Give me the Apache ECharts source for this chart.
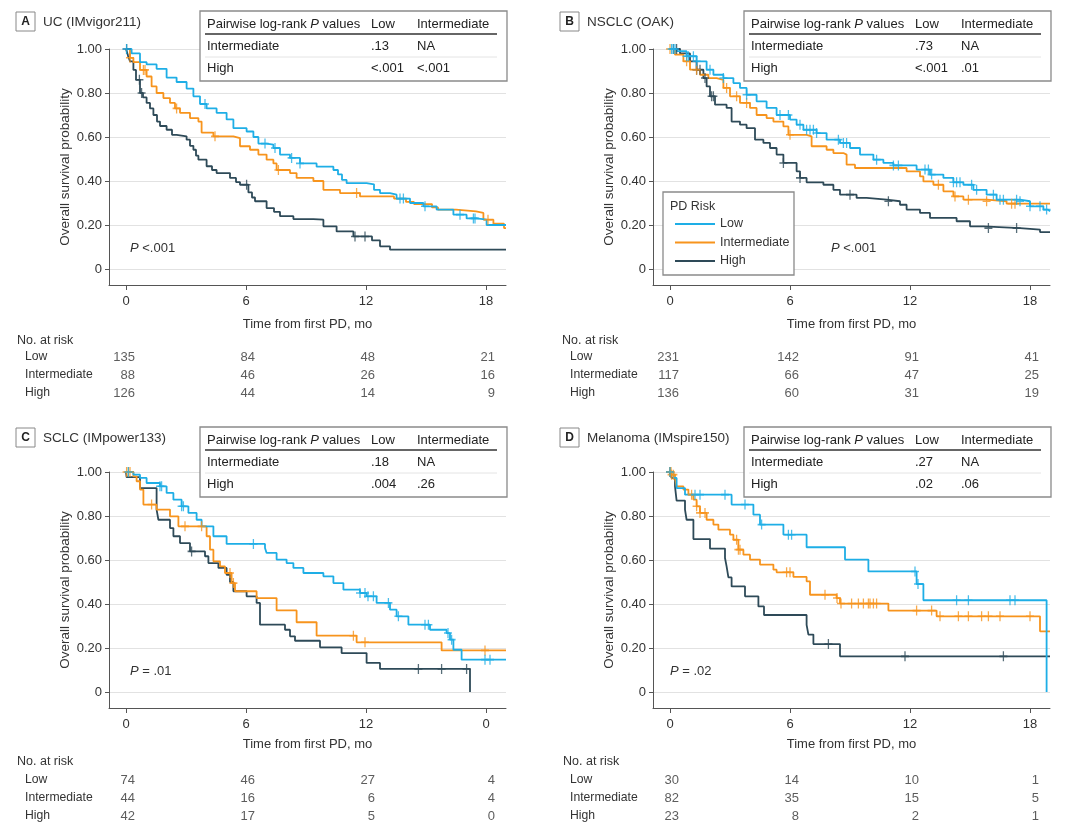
<!DOCTYPE html>
<html>
<head>
<meta charset="utf-8">
<script src="https://cdn.jsdelivr.net/npm/echarts@6/dist/echarts.min.js"></script>
<style>
  html, body { margin: 0; padding: 0; background: #fff; }
  #main { width: 1080px; height: 832px; }
</style>
</head>
<body>
<div id="main"></div>
<script>
// ---- data ----
const riskGroups = ['Low', 'Intermediate', 'High'];
const monthTicks = [0, 6, 12, 18];
const survTicks = [0, 0.2, 0.4, 0.6, 0.8, 1];
const tickLabelsStd = ['0', '6', '12', '18'];
const tickLabelsC = ['0', '6', '12', '0'];   // as printed in panel C

// A: UC (IMvigor211)
const ucLow = [[0,1],[0.28,0.98],[0.7,0.94],[1.03,0.93],[1.53,0.91],[2.03,0.87],[2.53,0.85],[3.03,0.82],[3.37,0.785],[3.7,0.75],[4.03,0.73],[4.53,0.71],[5.03,0.68],[5.37,0.64],[6.03,0.625],[6.37,0.6],[6.62,0.57],[7.03,0.565],[7.37,0.55],[7.7,0.52],[8.2,0.505],[8.7,0.48],[9.53,0.465],[10.37,0.45],[10.6,0.43],[10.8,0.405],[11.03,0.39],[12.03,0.385],[12.4,0.36],[12.7,0.345],[13.2,0.338],[13.53,0.32],[14.2,0.3],[14.87,0.285],[15.53,0.27],[16.37,0.247],[17.03,0.23],[17.53,0.224],[18.03,0.2],[19,0.197]];
const ucLowCens = [0.03,3.95,6.95,7.45,8.28,8.7,13.7,13.87,14.95,16.7,17.37,17.45];
const ucInt = [[0,1],[0.2,0.96],[0.37,0.94],[0.7,0.905],[1.03,0.875],[1.28,0.83],[1.53,0.8],[1.87,0.777],[2.2,0.755],[2.45,0.73],[2.7,0.71],[3.2,0.686],[3.62,0.67],[3.78,0.62],[4.37,0.603],[5.37,0.595],[5.7,0.558],[6.2,0.542],[6.62,0.52],[7.03,0.497],[7.37,0.48],[7.53,0.45],[8.2,0.436],[8.53,0.414],[9.37,0.4],[9.87,0.36],[10.7,0.345],[11.7,0.33],[13.4,0.32],[14.0,0.305],[14.4,0.295],[15.3,0.28],[15.6,0.27],[16.5,0.262],[17.5,0.255],[17.87,0.224],[18.37,0.206],[18.9,0.186],[19,0.186]];
const ucIntCens = [0.2,0.87,0.95,2.53,4.45,7.62,11.53,18.1];
const ucHigh = [[0,1],[0.1,0.97],[0.2,0.944],[0.37,0.905],[0.5,0.86],[0.7,0.8],[0.85,0.78],[1.03,0.755],[1.2,0.73],[1.37,0.7],[1.55,0.67],[1.7,0.65],[2.03,0.633],[2.3,0.61],[2.53,0.603],[3.03,0.588],[3.2,0.56],[3.37,0.542],[3.5,0.515],[3.62,0.497],[4.03,0.467],[4.3,0.45],[4.53,0.436],[5.2,0.414],[5.5,0.395],[5.7,0.383],[6.12,0.348],[6.3,0.325],[6.45,0.308],[7.03,0.277],[7.4,0.26],[7.7,0.24],[8.37,0.227],[9.37,0.224],[9.87,0.194],[10.53,0.171],[11.37,0.148],[12.3,0.13],[12.7,0.103],[13.2,0.088],[19,0.088]];
const ucHighCens = [0.03,0.67,0.78,6.03,11.45,11.95];
const ucRiskLow = [135, 84, 48, 21];
const ucRiskInt = [88, 46, 26, 16];
const ucRiskHigh = [126, 44, 14, 9];
const ucPairs = [['Intermediate', '.13', 'NA'], ['High', '<.001', '<.001']];

// B: NSCLC (OAK)
const nsclcLow = [[0,1],[0.33,0.99],[0.83,0.967],[1.33,0.944],[1.83,0.906],[2.17,0.883],[2.67,0.868],[3.17,0.845],[3.5,0.823],[3.83,0.792],[4.33,0.762],[4.83,0.732],[5.33,0.7],[6.0,0.679],[6.33,0.656],[6.67,0.633],[7.33,0.618],[7.83,0.588],[8.5,0.573],[9.0,0.55],[9.5,0.52],[10.17,0.497],[10.67,0.482],[11.17,0.471],[12.33,0.452],[13.0,0.429],[13.67,0.414],[14.17,0.394],[14.67,0.383],[15.17,0.36],[15.83,0.338],[16.33,0.315],[17.5,0.308],[18.0,0.285],[18.67,0.27],[18.9,0.262],[19,0.262]];
const nsclcLowCens = [0.08,0.17,0.25,0.83,0.92,1.17,1.33,2.0,2.67,3.83,5.5,5.92,6.5,6.83,7.0,7.17,7.33,8.42,8.67,8.83,10.33,11.17,11.42,12.75,12.92,13.08,14.17,14.33,14.5,15.08,15.33,16.17,16.5,16.67,17.33,17.5,18.0,18.5,18.83];
const nsclcInt = [[0,1],[0.25,0.974],[0.67,0.944],[1.0,0.906],[1.5,0.883],[1.92,0.868],[2.33,0.86],[2.67,0.823],[3.0,0.785],[3.5,0.755],[4.0,0.732],[4.33,0.7],[4.83,0.686],[5.17,0.67],[5.67,0.648],[5.92,0.61],[6.83,0.603],[7.08,0.558],[7.83,0.542],[8.17,0.527],[8.67,0.52],[8.83,0.474],[9.25,0.459],[11.83,0.444],[12.5,0.421],[12.67,0.398],[13.17,0.383],[13.67,0.353],[14.17,0.33],[14.67,0.315],[15.83,0.308],[16.83,0.297],[19,0.297]];
const nsclcIntCens = [0,0.83,1.33,2.83,3.33,3.83,6.0,13.42,14.25,14.92,15.83,17.08,17.25];
const nsclcHigh = [[0,1],[0.5,0.98],[1.0,0.944],[1.33,0.906],[1.67,0.868],[1.83,0.83],[2.0,0.785],[2.25,0.747],[2.83,0.732],[3.08,0.67],[3.5,0.656],[3.83,0.64],[4.25,0.588],[4.67,0.573],[5.0,0.55],[5.33,0.52],[5.67,0.482],[6.33,0.444],[6.5,0.414],[6.83,0.394],[7.67,0.383],[8.17,0.36],[8.5,0.338],[9.33,0.323],[9.83,0.315],[10.83,0.308],[11.5,0.292],[11.83,0.27],[12.5,0.255],[13.0,0.232],[14.33,0.217],[15.0,0.194],[15.67,0.186],[17.5,0.179],[18.5,0.168],[19,0.168]];
const nsclcHighCens = [0.17,0.33,1.33,1.5,1.75,2.08,2.17,5.67,6.5,9.0,10.92,15.92,17.33];
const nsclcRiskLow = [231, 142, 91, 41];
const nsclcRiskInt = [117, 66, 47, 25];
const nsclcRiskHigh = [136, 60, 31, 19];
const nsclcPairs = [['Intermediate', '.73', 'NA'], ['High', '<.001', '.01']];

// C: SCLC (IMpower133)
const sclcLow = [[0,1],[0.37,0.988],[0.7,0.973],[1.03,0.95],[1.7,0.935],[2.03,0.905],[2.37,0.874],[2.78,0.844],[3.12,0.814],[3.53,0.783],[3.78,0.753],[4.37,0.708],[5.03,0.673],[6.95,0.655],[7.03,0.632],[7.53,0.602],[8.03,0.586],[8.37,0.564],[8.87,0.541],[9.87,0.526],[10.37,0.495],[10.87,0.465],[11.7,0.45],[12.03,0.435],[12.53,0.405],[13.2,0.374],[13.53,0.344],[14.12,0.306],[15.2,0.283],[16.03,0.268],[16.2,0.238],[16.37,0.192],[16.78,0.147],[19,0.147]];
const sclcLowCens = [0.12,1.7,1.78,2.78,2.87,6.37,11.7,11.95,12.1,12.37,13.12,13.62,14.95,15.12,16.1,16.28,17.95,18.2];
const sclcInt = [[0,1],[0.37,0.98],[0.53,0.958],[0.7,0.92],[0.87,0.852],[1.53,0.829],[2.2,0.798],[2.62,0.753],[4.03,0.708],[4.2,0.647],[4.37,0.594],[4.7,0.571],[4.95,0.541],[5.28,0.495],[5.45,0.458],[6.53,0.427],[7.53,0.371],[8.53,0.317],[9.53,0.256],[11.53,0.226],[15.78,0.189],[19,0.189]];
const sclcIntCens = [0.03,0.12,0.2,1.28,2.95,3.78,5.2,5.37,11.37,11.95,17.95];
const sclcHigh = [[0,1],[0.03,0.977],[0.7,0.927],[1.53,0.829],[1.62,0.783],[2.2,0.745],[2.37,0.708],[2.7,0.677],[3.2,0.639],[3.95,0.617],[4.12,0.586],[4.62,0.564],[5.03,0.533],[5.2,0.5],[5.37,0.458],[6.03,0.435],[6.53,0.405],[6.7,0.306],[7.95,0.283],[8.2,0.253],[8.45,0.233],[9.7,0.203],[10.78,0.177],[12.03,0.132],[12.7,0.105],[17.2,0]];
const sclcHighCens = [3.28,14.62,15.78,17.03];
const sclcRiskLow = [74, 46, 27, 4];
const sclcRiskInt = [44, 16, 6, 4];
const sclcRiskHigh = [42, 17, 5, 0];
const sclcPairs = [['Intermediate', '.18', 'NA'], ['High', '.004', '.26']];

// D: Melanoma (IMspire150)
const melLow = [[0,1],[0.17,0.973],[0.33,0.927],[0.75,0.897],[3.08,0.852],[4.17,0.806],[4.5,0.761],[5.67,0.715],[6.83,0.658],[8.75,0.602],[9.92,0.548],[12.33,0.491],[12.67,0.417],[18.83,0]];
const melLowCens = [0,1.25,1.5,2.75,3.75,4.58,5.92,6.08,12.25,12.4,14.33,14.92,17.0,17.25];
const melInt = [[0,1],[0.08,0.988],[0.25,0.973],[0.33,0.935],[0.67,0.92],[0.92,0.897],[1.17,0.874],[1.33,0.844],[1.5,0.814],[1.83,0.783],[2.17,0.761],[2.42,0.738],[3.0,0.715],[3.17,0.692],[3.42,0.647],[3.67,0.624],[4.0,0.602],[4.5,0.579],[5.17,0.556],[5.33,0.544],[6.17,0.523],[6.83,0.503],[7.0,0.442],[8.33,0.427],[8.5,0.402],[10.92,0.37],[13.33,0.344],[18.5,0.276],[19,0.276]];
const melIntCens = [0,0.05,0.08,0.17,1.08,1.33,1.5,1.75,3.33,3.42,3.5,5.83,6.0,7.75,8.35,8.55,9.08,9.42,9.67,9.92,10.0,10.17,10.33,12.33,13.08,13.5,14.42,14.92,15.58,15.92,16.5,18.0];
const melHigh = [[0,1],[0.08,0.973],[0.25,0.935],[0.33,0.87],[0.75,0.829],[0.83,0.783],[1.17,0.695],[2.0,0.652],[2.75,0.609],[2.83,0.571],[2.92,0.521],[3.08,0.48],[3.75,0.435],[4.42,0.389],[4.7,0.35],[6.83,0.305],[6.92,0.261],[7.17,0.218],[8.5,0.162],[19,0.162]];
const melHighCens = [0,7.92,11.75,16.67];
const melRiskLow = [30, 14, 10, 1];
const melRiskInt = [82, 35, 15, 5];
const melRiskHigh = [23, 8, 2, 1];
const melPairs = [['Intermediate', '.27', 'NA'], ['High', '.02', '.06']];

// ---- look ----
const FONT = '"Liberation Sans", Arial, sans-serif';
const TXT = '#333';
const AXIS = '#555';
const colors = ['#1eaee6', '#f7941d', '#2e4a58'];
const cross = 'path://M-0.16,-1H0.16V-0.16H1V0.16H0.16V1H-0.16V0.16H-1V-0.16H-0.16Z';

const panels = [
  { letter: 'A', title: 'UC (IMvigor211)', curves: [ucLow, ucInt, ucHigh], cens: [ucLowCens, ucIntCens, ucHighCens],
    risk: [ucRiskLow, ucRiskInt, ucRiskHigh], pairs: ucPairs, p: '<.001', xLabels: tickLabelsStd,
    left: 109, top: 49, labelGap: 10, nameGap: 33, riskTop: 348, riskHead: 341, rowLabelX: 25, headX: 17, tab: [200, 11], pPos: [130, 248] },
  { letter: 'B', title: 'NSCLC (OAK)', curves: [nsclcLow, nsclcInt, nsclcHigh], cens: [nsclcLowCens, nsclcIntCens, nsclcHighCens],
    risk: [nsclcRiskLow, nsclcRiskInt, nsclcRiskHigh], pairs: nsclcPairs, p: '<.001', xLabels: tickLabelsStd,
    left: 653, top: 49, labelGap: 10, nameGap: 33, riskTop: 348, riskHead: 341, rowLabelX: 570, headX: 562, tab: [744, 11], pPos: [831, 248] },
  { letter: 'C', title: 'SCLC (IMpower133)', curves: [sclcLow, sclcInt, sclcHigh], cens: [sclcLowCens, sclcIntCens, sclcHighCens],
    risk: [sclcRiskLow, sclcRiskInt, sclcRiskHigh], pairs: sclcPairs, p: '= .01', xLabels: tickLabelsC,
    left: 109, top: 472, labelGap: 10, nameGap: 30, riskTop: 771, riskHead: 762, rowLabelX: 25, headX: 17, tab: [200, 427], pPos: [130, 671] },
  { letter: 'D', title: 'Melanoma (IMspire150)', curves: [melLow, melInt, melHigh], cens: [melLowCens, melIntCens, melHighCens],
    risk: [melRiskLow, melRiskInt, melRiskHigh], pairs: melPairs, p: '= .02', xLabels: tickLabelsStd,
    left: 653, top: 472, labelGap: 10, nameGap: 30, riskTop: 771, riskHead: 762, rowLabelX: 570, headX: 563, tab: [744, 427], pPos: [670, 671] }
];

function survAt(curve, t) {
  let s = 1;
  for (const pt of curve) {
    if (pt[0] <= t) s = pt[1]; else break;
  }
  return s;
}

const grids = [], xAxes = [], yAxes = [], series = [], graphics = [];

panels.forEach((pn, i) => {
  grids.push({ left: pn.left, top: pn.top, width: 397, height: 236 });
  xAxes.push({
    type: 'value', gridIndex: i, min: -0.85, max: 19,
    axisLine: { show: true, onZero: false, lineStyle: { color: AXIS } },
    axisTick: { show: true, length: 5, customValues: monthTicks, lineStyle: { color: AXIS } },
    axisLabel: { customValues: monthTicks, formatter: v => pn.xLabels[monthTicks.indexOf(v)], margin: pn.labelGap,
      fontSize: 13, color: TXT, fontFamily: FONT },
    splitLine: { show: false },
    name: 'Time from first PD, mo', nameLocation: 'middle', nameGap: pn.nameGap,
    nameTextStyle: { fontSize: 13, color: TXT, fontFamily: FONT }
  });
  yAxes.push({
    type: 'value', gridIndex: i, min: -0.0727, max: 1,
    axisLine: { show: true, onZero: false, lineStyle: { color: AXIS } },
    axisTick: { show: true, length: 4, customValues: survTicks, lineStyle: { color: AXIS } },
    axisLabel: { customValues: survTicks, formatter: v => (v === 0 ? '0' : v.toFixed(2)), margin: 7,
      fontSize: 13, color: TXT, fontFamily: FONT },
    splitLine: { show: true, lineStyle: { color: '#e2e2e2' } },
    name: 'Overall survival probability', nameLocation: 'middle', nameGap: 37,
    nameTextStyle: { fontSize: 13.5, color: TXT, fontFamily: FONT }
  });

  // curves (draw High first so Low sits on top)
  [2, 1, 0].forEach(g => {
    series.push({
      type: 'line', name: riskGroups[g], xAxisIndex: i, yAxisIndex: i,
      data: pn.curves[g], step: 'end', showSymbol: false, symbol: 'none',
      lineStyle: { color: colors[g], width: 1.8 }, itemStyle: { color: colors[g] },
      silent: true, animation: false, z: 3
    });
    series.push({
      type: 'scatter', xAxisIndex: i, yAxisIndex: i,
      data: pn.cens[g].map(t => [t, survAt(pn.curves[g], t)]),
      symbol: cross, symbolSize: [8, 10], itemStyle: { color: colors[g] },
      silent: true, animation: false, z: 4
    });
  });

  // panel letter + title
  const by = pn.tab[1] + 1;
  graphics.push({ type: 'rect', shape: { x: pn.left - 93, y: by, width: 19, height: 19 },
    style: { fill: '#fff', stroke: '#888', lineWidth: 1 } });
  graphics.push({ type: 'text', x: pn.left - 83.5, y: by + 10,
    style: { text: pn.letter, fontSize: 12, fontWeight: 'bold', fontFamily: FONT, fill: '#222', align: 'center', verticalAlign: 'middle' } });
  graphics.push({ type: 'text', x: pn.left - 66, y: by + 10,
    style: { text: pn.title, fontSize: 13.5, fontFamily: FONT, fill: TXT, align: 'left', verticalAlign: 'middle' } });

  // pairwise log-rank table
  const tx = pn.tab[0], ty = pn.tab[1];
  graphics.push({ type: 'rect', shape: { x: tx, y: ty, width: 307, height: 70 },
    style: { fill: '#fff', stroke: '#8a8a8a', lineWidth: 1.3 }, z: 10 });
  graphics.push({ type: 'line', shape: { x1: tx + 5, y1: ty + 23, x2: tx + 297, y2: ty + 23 },
    style: { stroke: '#333', lineWidth: 1.3 }, z: 11 });
  graphics.push({ type: 'line', shape: { x1: tx + 5, y1: ty + 46, x2: tx + 297, y2: ty + 46 },
    style: { stroke: '#e4e4e4', lineWidth: 1 }, z: 11 });
  const cell = (x, y, text) => graphics.push({ type: 'text', x: tx + x, y: ty + y, z: 12,
    style: { text, fontSize: 13, fontFamily: FONT, fill: '#222', align: 'left', verticalAlign: 'middle',
      rich: { i: { fontStyle: 'italic', fontSize: 13, fontFamily: FONT, fill: '#222' } } } });
  cell(7, 13, 'Pairwise log-rank {i|P} values');
  cell(171, 13, 'Low');
  cell(217, 13, 'Intermediate');
  pn.pairs.forEach((row, r) => {
    cell(7, 35 + r * 22, row[0]);
    cell(171, 35 + r * 22, row[1]);
    cell(217, 35 + r * 22, row[2]);
  });

  // overall P value
  graphics.push({ type: 'text', x: pn.pPos[0], y: pn.pPos[1], z: 12,
    style: { text: '{i|P} ' + pn.p, fontSize: 13, fontFamily: FONT, fill: TXT, align: 'left', verticalAlign: 'middle',
      rich: { i: { fontStyle: 'italic', fontSize: 13, fontFamily: FONT, fill: TXT } } } });

  // "No. at risk" heading
  graphics.push({ type: 'text', x: pn.headX, y: pn.riskHead,
    style: { text: 'No. at risk', fontSize: 12.5, fontFamily: FONT, fill: TXT, align: 'left', verticalAlign: 'middle' } });
});

// number-at-risk grids
panels.forEach((pn, i) => {
  const gi = 4 + i;
  grids.push({ left: pn.left, top: pn.riskTop, width: 397, height: 54 });
  xAxes.push({ type: 'value', gridIndex: gi, min: -0.85, max: 19, show: false });
  yAxes.push({
    type: 'category', gridIndex: gi, data: riskGroups, inverse: true,
    axisLine: { show: false }, axisTick: { show: false }, splitLine: { show: false },
    axisLabel: { align: 'left', margin: pn.left - pn.rowLabelX, fontSize: 12.2, color: TXT, fontFamily: FONT }
  });
  const pts = [];
  riskGroups.forEach((g, r) => monthTicks.forEach((m, k) => pts.push([m, g, pn.risk[r][k]])));
  series.push({
    type: 'scatter', xAxisIndex: gi, yAxisIndex: gi, data: pts,
    symbolSize: 1, itemStyle: { color: 'rgba(0,0,0,0)' }, silent: true, animation: false,
    label: { show: true, position: 'inside', align: 'right', offset: [9, 0],
      formatter: p => String(p.value[2]), fontSize: 13, color: TXT, fontFamily: FONT }
  });
});

// legend box in panel B
graphics.push({ type: 'rect', shape: { x: 663, y: 192, width: 131, height: 83 },
  style: { fill: '#fff', stroke: '#8a8a8a', lineWidth: 1.3 }, z: 10 });
graphics.push({ type: 'text', x: 670, y: 207, z: 12,
  style: { text: 'PD Risk', fontSize: 12.5, fontFamily: FONT, fill: TXT, align: 'left', verticalAlign: 'middle' } });

const chart = echarts.init(document.getElementById('main'), null, { renderer: 'canvas' });
chart.setOption({
  backgroundColor: '#fff',
  animation: false,
  grid: grids,
  xAxis: xAxes,
  yAxis: yAxes,
  legend: {
    data: riskGroups, orient: 'vertical', left: 670, top: 212, z: 20,
    icon: 'rect', itemWidth: 40, itemHeight: 2, itemGap: 4.5,
    textStyle: { fontSize: 12.5, color: TXT, fontFamily: FONT, lineHeight: 14 },
    selectedMode: false
  },
  graphic: graphics,
  series: series
});
</script>
</body>
</html>
